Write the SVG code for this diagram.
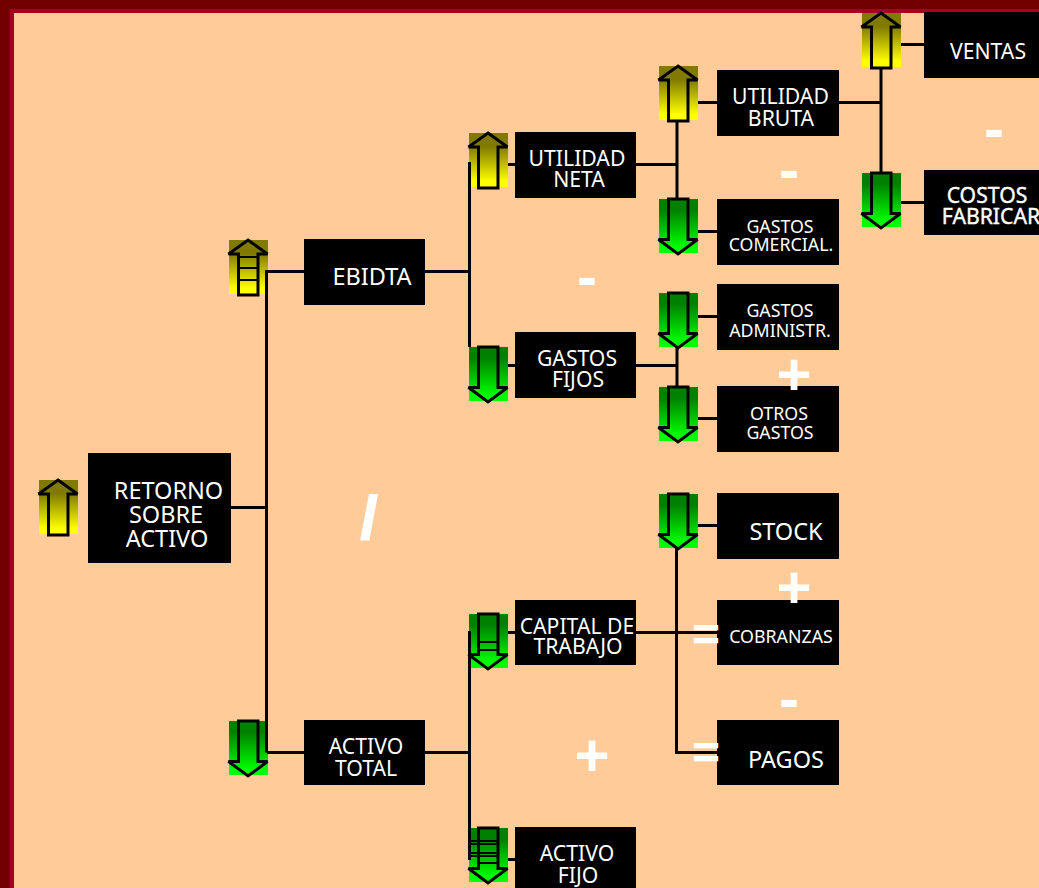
<svg xmlns="http://www.w3.org/2000/svg" width="1039" height="888" viewBox="0 0 1039 888">
<style>
.n{fill:#000}
text{font-family:"Noto Sans","DejaVu Sans",sans-serif;fill:#fff;text-anchor:middle}
.t{font-size:23.500px}
.m{font-size:21.200px}
.s{font-size:17.800px}
.b{stroke:#fff;stroke-width:0.400px}
.op{font-family:"Liberation Sans",sans-serif;font-weight:bold;font-size:60px}
.sl{stroke:#fff;stroke-width:2px}
.eq{font-size:48px}
.c{fill:none;stroke:#000;stroke-width:3}
.a{fill:none;stroke:#000;stroke-width:3;stroke-miterlimit:3}
.l{stroke:#000;stroke-width:2}
</style>
<defs>
<linearGradient id="gu" x1="0" y1="0" x2="0" y2="1"><stop offset="0" stop-color="#807a00"/><stop offset="0.25" stop-color="#807a00"/><stop offset="0.9" stop-color="#ffff00"/><stop offset="1" stop-color="#ffff00"/></linearGradient>
<linearGradient id="gd" x1="0" y1="0" x2="0" y2="1"><stop offset="0" stop-color="#008000"/><stop offset="0.2" stop-color="#008000"/><stop offset="0.9" stop-color="#00ff00"/><stop offset="1" stop-color="#00ff00"/></linearGradient>
<g id="up"><rect x="0" y="0" width="39" height="54" fill="url(#gu)"/><path class="a" d="M19 0L38.500 14L29 14L29 55L9.500 55L9.500 14L-0.500 14Z"/></g>
<g id="down"><rect x="0" y="0" width="39" height="54" fill="url(#gd)"/><path class="a" d="M9.500 0L29 0L29 40.500L38.500 40.500L19 55L-0.500 40.500L9.500 40.500Z"/></g>
</defs>
<rect width="1039" height="888" fill="#ffcc99"/>
<rect x="0" y="0" width="1039" height="13" fill="#a50021"/>
<rect x="0" y="0" width="14" height="888" fill="#a50021"/>
<rect x="0" y="0" width="1039" height="9" fill="#720000"/>
<rect x="0" y="0" width="10" height="888" fill="#720000"/>

<g id="arrow-retorno"><use href="#up" x="39" y="480"/></g>
<g id="arrow-ebidta"><use href="#up" x="229" y="240"/><path class="l" d="M239 257H258M239 268H258M239 280H258"/></g>
<g id="arrow-activo-total"><use href="#down" x="229" y="721"/></g>
<g id="arrow-utilidad-neta"><use href="#up" x="469" y="133"/></g>
<g id="arrow-gastos-fijos"><use href="#down" x="469" y="347"/></g>
<g id="arrow-capital"><use href="#down" x="469" y="614"/><path class="l" d="M479 642H498M479 650H498"/></g>
<g id="arrow-activo-fijo"><use href="#down" x="469" y="828"/><path class="l" d="M468 841H499M468 844H499M468 853H499M468 856H499M479 863H499"/></g>
<g id="arrow-utilidad-bruta"><use href="#up" x="659" y="66"/></g>
<g id="arrow-comercial"><use href="#down" x="659" y="199"/></g>
<g id="arrow-administr"><use href="#down" x="659" y="293"/></g>
<g id="arrow-otros"><use href="#down" x="659" y="387"/></g>
<g id="arrow-stock"><use href="#down" x="659" y="494"/></g>
<g id="arrow-ventas"><use href="#up" x="862" y="13"/></g>
<g id="arrow-costos"><use href="#down" x="862" y="173"/></g>

<g id="connectors" class="c">
<path d="M231 507.500H267M304 271.500H266.500V752.500M267 752.500H304"/>
<path d="M425 271.500H469.500M425 752.500H469.500M469.500 162V347M469.500 631V860"/>
<path d="M508 164.500H516M508 365.500H516M508 632.500H516M508 859.500H516"/>
<path d="M636 164.500H677M677 120V200M636 365.500H677M677 347V388"/>
<path d="M698 102.500H718M698 231.500H718M698 316.500H718M698 418.500H718M698 525.500H718"/>
<path d="M676.500 547V752.500H718M636 632.500H718"/>
<path d="M839 102.500H881M881 67V173M901 44.500H925M901 202.500H925"/>
</g>

<g id="node-retorno"><rect class="n" x="88" y="453" width="143" height="110"/><text class="t" x="168.500" y="498.500">RETORNO</text><text class="t" x="166" y="522.500">SOBRE</text><text class="t" x="167" y="546.500">ACTIVO</text></g>
<g id="node-ebidta"><rect class="n" x="304" y="239" width="121" height="66"/><text class="t" x="372" y="285">EBIDTA</text></g>
<g id="node-activo-total"><rect class="n" x="304" y="720" width="121" height="65"/><text class="m" x="366" y="754">ACTIVO</text><text class="m" x="366" y="776">TOTAL</text></g>
<g id="node-utilidad-neta"><rect class="n" x="515" y="132" width="121" height="66"/><text class="m" x="577" y="166">UTILIDAD</text><text class="m" x="579" y="187">NETA</text></g>
<g id="node-gastos-fijos"><rect class="n" x="515" y="332" width="121" height="66"/><text class="m" x="577" y="366">GASTOS</text><text class="m" x="578" y="387">FIJOS</text></g>
<g id="node-capital"><rect class="n" x="515" y="600" width="121" height="65"/><text class="m" x="577" y="634">CAPITAL DE</text><text class="m" x="578" y="654">TRABAJO</text></g>
<g id="node-activo-fijo"><rect class="n" x="515" y="827" width="121" height="61"/><text class="m" x="577" y="861">ACTIVO</text><text class="m" x="578" y="883">FIJO</text></g>
<g id="node-utilidad-bruta"><rect class="n" x="717" y="70" width="122" height="66"/><text class="m" x="780.500" y="104">UTILIDAD</text><text class="m" x="781" y="126">BRUTA</text></g>
<g id="node-comercial"><rect class="n" x="717" y="199" width="122" height="66"/><text class="s" x="780" y="233">GASTOS</text><text class="s" x="781" y="251">COMERCIAL.</text></g>
<g id="node-administr"><rect class="n" x="717" y="284" width="122" height="66"/><text class="s" x="780" y="317">GASTOS</text><text class="s" x="780" y="337">ADMINISTR.</text></g>
<g id="node-otros"><rect class="n" x="717" y="386" width="122" height="66"/><text class="s" x="779" y="420">OTROS</text><text class="s" x="780" y="439">GASTOS</text></g>
<g id="node-stock"><rect class="n" x="717" y="493" width="122" height="66"/><text class="t" x="786" y="540">STOCK</text></g>
<g id="node-cobranzas"><rect class="n" x="717" y="600" width="122" height="65"/><text class="s" x="781" y="643">COBRANZAS</text></g>
<g id="node-pagos"><rect class="n" x="717" y="720" width="122" height="65"/><text class="t" x="786" y="768">PAGOS</text></g>
<g id="node-ventas"><rect class="n" x="924" y="12" width="115" height="66"/><text class="m" x="988" y="59">VENTAS</text></g>
<g id="node-costos"><rect class="n" x="924" y="170" width="115" height="65"/><text class="m b" x="987" y="203">COSTOS</text><text class="m b" x="991" y="224">FABRICAR</text></g>

<g id="operators">
<text class="op sl" x="369" y="538">/</text>
<text class="op" x="587" y="297">-</text>
<text class="op" x="592" y="776">+</text>
<text class="op" x="789" y="190">-</text>
<text class="op" x="794" y="395">+</text>
<text class="op" x="794" y="608">+</text>
<text class="op" x="789" y="719">-</text>
<text class="op eq" x="706" y="651">=</text>
<text class="op eq" x="706" y="769">=</text>
<text class="op" x="994" y="149">-</text>
</g>
</svg>
